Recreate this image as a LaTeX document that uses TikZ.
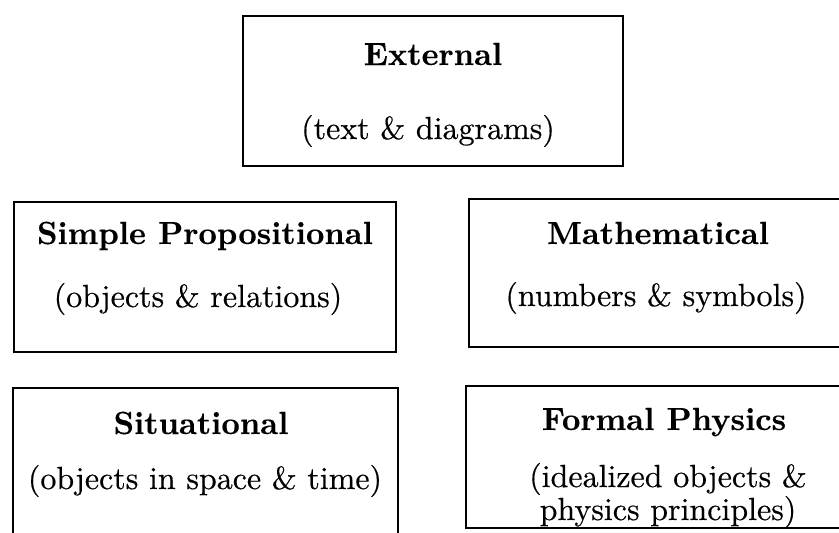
\documentclass[tikz,border=0pt]{standalone}
\usepackage{fontspec}
\newfontfamily\regf{lmroman10-regular.otf}[FakeBold=0.4]
\newfontfamily\boldf{lmroman10-bold.otf}[FakeBold=0.3]
\begin{document}
\begin{tikzpicture}[x=1pt,y=-1pt,
  box/.style={draw=black, line width=2.8pt, rectangle, inner sep=0pt},
  title/.style={font=\fontsize{32}{38}\boldf, anchor=base, inner sep=0pt},
  sub/.style={font=\fontsize{32}{38}\regf, anchor=base, inner sep=0pt}]
\useasboundingbox (0,0) rectangle (839,533);
\fill[white] (0,0) rectangle (839,533);
\clip (0,0) rectangle (839,533);
% boxes
\node[box, minimum width=380pt, minimum height=150pt] (ext) at (433,91) {};
\node[box, minimum width=382pt, minimum height=150pt] (simp) at (205,277) {};
\node[box, minimum width=401pt, minimum height=148pt] (math) at (669.5,273) {};
\node[box, minimum width=385pt, minimum height=182pt] (sit) at (205.5,479) {};
\node[box, minimum width=404pt, minimum height=142pt] (form) at (668,457) {};
% texts
\node[title] (extT) at (433,65) {External};
\node[sub] (extS) at (428,139) {(text \& diagrams)};
\node[title] (simpT) at (205,244) {Simple Propositional};
\node[sub] (simpS) at (198,307) {(objects \& relations)};
\node[title] (mathT) at (658,244) {Mathematical};
\node[sub] (mathS) at (656,306) {(numbers \& symbols)};
\node[title] (sitT) at (201,434) {Situational};
\node[sub] (sitS) at (205,489) {(objects in space \& time)};
\node[title] (formT) at (664,430) {Formal Physics};
\node[sub] (formS1) at (668,487) {(idealized objects \&};
\node[sub] (formS2) at (668,520) {physics principles)};
\end{tikzpicture}
\end{document}
